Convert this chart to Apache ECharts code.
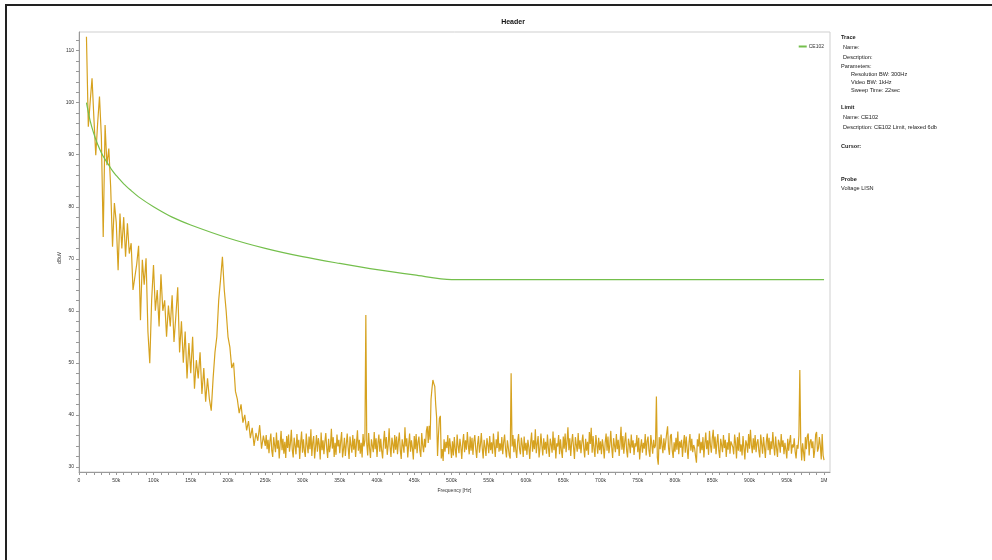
<!DOCTYPE html>
<html>
<head>
<meta charset="utf-8">
<script src="https://cdn.jsdelivr.net/npm/echarts@6/dist/echarts.min.js"></script>
<style>
html,body{margin:0;padding:0;background:#fff;}
#chart{width:992px;height:560px;}
</style>
</head>
<body>
<div id="chart"></div>
<script>
// ---- data ----
// low-frequency part of the trace (10 kHz .. 250 kHz, 2.5 kHz steps)
const earlyStartHz = 10000;
const earlyStepHz = 2500;
const earlyLevels = [
  112.7, 95.4, 100.2, 104.7, 97, 89.9, 96, 101.2, 93.5, 74.2,
  95.7, 88, 91.2, 83.8, 72.3, 80.7, 77, 67.8, 78.7, 72,
  78, 70.4, 76.8, 71, 73, 64, 66.5, 69, 72.5, 58.2,
  69.8, 65, 70.1, 56, 49.9, 62, 68.8, 60, 64, 57,
  67, 60, 62, 55, 61, 57, 63, 54, 59, 64.5,
  52, 58, 50, 56, 47, 53.8, 48, 55, 45, 50.5,
  47, 52, 44, 49, 42.5, 47, 43, 40.8, 47, 52,
  55, 62, 66, 70.4, 64, 60, 55, 53, 49, 50,
  44.5, 43, 40.3, 42, 38.5, 40, 37, 38.8, 35.5, 37.5,
  34, 36.5, 35, 38, 33.5, 36, 34
];
// noise floor of the trace (251.25 kHz .. 1 MHz, 1.25 kHz steps)
const floorStartHz = 251250;
const floorStepHz = 1250;
const floorLevels = [
  36.1,33.4,35.2,32.6,34.9,36.4,33.1,31.9,35.7,34.2,32.8,36.6,33.5,35.1,31.6,34.4,36.9,33.2,35.4,32.5,
  34.8,31.7,35.9,33.6,36.2,32.9,34.5,37.1,33.3,31.8,35.6,34.1,32.4,36.3,33.7,35.2,31.5,34.6,36.8,32.7,
  35.3,33.1,31.9,36.4,34.2,32.6,35.8,33.4,37.2,32.1,34.7,35.9,31.6,33.8,36.1,32.9,35.5,34.3,31.4,36.6,
  33.2,35.1,32.4,34.8,36.5,33.6,31.7,35.4,32.8,34.1,37.3,33.5,35.7,31.9,34.6,32.3,36.2,33.9,35.2,32.6,
  34.9,36.7,31.8,33.4,35.6,32.1,34.3,36.4,33.7,31.5,35.8,34.2,32.7,36.1,33.3,35.4,31.9,34.7,37,33.1,
  35.2,32.5,34.6,31.8,36.3,33.9,35.1,33.0,34.4,32.2,36.5,33.6,31.7,35.3,34.1,32.8,36.7,33.4,35.5,31.9,
  34.6,36.2,32.9,35.4,33.1,31.6,34.8,36.9,33.5,35.7,32.3,34.2,37.4,33.8,31.9,35.6,34.4,32.6,36.1,33.3,
  35.8,32.4,34.9,36.6,33.2,31.5,35.3,34.1,32.7,37.6,33.9,35.5,31.8,34.3,36.4,32.9,35.1,33.6,31.4,35.9,
  33.4,36.3,32.6,34.7,35.8,33.1,31.9,36.5,34.2,32.8,35.4,33.7,36.9,32.3,34.6,37.9,35.2,33.5,36.8,34.4,
  35.1,33.2,36.4,34.7,32.1,36.2,39.3,34.5,31.6,33.4,31.1,35.3,32.9,34.8,33.6,36.1,32.4,35.5,33.8,31.7,
  34.9,32.2,35.7,33.4,31.8,36.2,34.1,32.6,35.4,33.9,31.5,34.6,36.3,32.8,35.1,33.3,36.7,34.2,32.4,35.8,
  33.1,35.6,32.3,34.9,36.1,33.5,31.7,34.4,35.9,32.7,34.2,36.5,33.6,31.6,35.2,33.8,32.1,35.5,34.3,32.6,
  35.9,33.2,34.7,32.5,36.4,34.1,31.9,35.3,33.6,36.8,32.9,34.5,33.1,35.7,32.4,34.8,36.2,33.4,31.8,35.1,
  33.7,32.2,31.6,34.6,33.9,36.1,32.8,35.4,33.3,31.7,34.9,36.3,33.5,32.4,35.6,34.2,31.9,35.8,33.1,34.6,
  32.3,35.2,33.8,31.5,34.7,36.6,32.9,35.1,33.4,37.2,32.6,34.4,35.9,31.8,33.6,36.4,34.1,32.2,35.5,33.3,
  34.8,32.5,36.2,33.7,31.9,35.4,34.3,32.7,36.8,33.2,35.6,31.6,34.5,33.9,36.1,32.4,35.3,33.1,31.7,35.8,
  33.5,36.4,32.8,34.9,37.6,33.2,35.5,32.1,34.6,36.3,33.8,31.5,35.7,34.2,32.9,36.5,33.4,35.1,32.6,34.7,
  36.2,33.6,31.8,35.4,33.1,34.8,32.3,36.7,34.4,37.5,32.7,35.9,33.5,31.9,36.1,34.3,32.5,35.6,33.2,34.9,
  32.4,35.3,33.9,31.6,34.7,36.4,33.1,35.8,32.6,34.2,36.9,33.7,31.7,35.5,34.1,32.8,36.3,33.4,35.2,32.1,
  34.6,37.7,33.3,35.9,32.5,34.8,36.6,33.2,31.8,35.4,34.3,32.6,36.2,33.7,35.1,32.3,34.5,33.9,36.1,32.8,
  35.6,31.4,33.8,35.3,32.7,34.6,33.5,36.3,32.2,34.9,35.8,33.1,31.9,36.1,34.4,32.5,35.2,33.6,34.1,33.0,
  31.8,30.4,35.7,33.4,36.2,34.1,32.6,35.5,33.2,34.8,36.4,37.8,33.6,32.3,35.9,36.3,33.1,31.7,34.7,32.9,
  35.6,33.3,36.8,32.4,34.9,33.7,35.2,31.9,34.4,36.1,32.7,35.8,33.5,31.5,34.6,36.3,33.1,35.4,32.8,34.2,
  33.6,32.1,30.8,35.3,33.9,36.4,32.6,34.8,33.2,35.7,31.8,34.5,36.6,33.4,35.1,32.3,36.9,34.2,32.7,35.5,
  37.1,33.5,35.8,32.4,34.6,36.3,33.1,31.7,35.4,34.2,32.8,36.1,33.6,35.2,31.9,34.7,33.3,36.5,32.5,34.9,
  35.2,33.8,32.4,36.2,34.5,31.6,35.7,33.1,36.6,32.9,34.3,32.2,35.9,33.6,31.4,35.1,34.4,32.7,36.3,33.5,
  37.1,34.2,32.6,35.5,33.3,36.1,32.8,34.6,35.3,33.1,31.8,36.2,34.4,32.5,35.7,33.9,31.7,34.8,36.4,33.2,
  35.6,32.3,34.9,33.4,36.7,34.1,32.2,35.8,33.6,31.9,35.2,34.5,32.7,36.3,33.8,35.1,32.4,34.6,33.3,31.6,
  35.4,33.1,34.8,36.1,32.5,34.3,33.7,35.5,32.9,31.6,34.2,33.5,36.0,33.3,34.6,31.2,34.5,32.8,31.1,35.7,
  33.4,35.9,36.4,32.2,34.8,35.3,33.6,34.9,31.7,33.2,36.2,36.7,32.9,33.6,35.7,34.1,31.4,36.3,32.2,31.3
];
// narrow emissions standing above the noise floor [Hz, dBuV]
const spikeFreqs  = [385000, 467500, 472500, 473750, 475000, 476250, 477500, 478750, 480000, 485000, 580000, 775000, 967500];
const spikeLevels = [59.2,   37.8,   43,     45,     46.7,   46,     45.5,   42,     39.5,   39.8,   48,     43.5,   48.6];
// CE102 limit (relaxed 6 dB)
const limitFreqs = [10000, 15000, 20000, 25000, 30000, 35000, 40000, 45000, 50000, 60000, 70000, 80000, 100000, 125000, 150000, 200000, 250000, 300000, 350000, 400000, 450000, 500000, 1000000];
const limitLevels = [100, 96.5, 94, 92, 90.4, 89.1, 88, 86.9, 86, 84.4, 83.1, 81.9, 80, 78, 76.5, 74, 72, 70.4, 69.1, 67.9, 66.9, 66, 66];
const xTickValues = []; for (let v = 0; v <= 1000000; v += 10000) xTickValues.push(v);
const xLabelValues = []; for (let v = 0; v <= 1000000; v += 50000) xLabelValues.push(v);
const yTickValues = []; for (let v = 30; v <= 112; v += 2) yTickValues.push(v);
const yLabelValues = [30, 40, 50, 60, 70, 80, 90, 100, 110];
const infoLines = [
  ['Trace', 841, 37, true],
  ['Name:', 843, 47, false],
  ['Description:', 843, 57, false],
  ['Parameters:', 841, 66, false],
  ['Resolution BW: 300Hz', 851, 74, false],
  ['Video BW: 1kHz', 851, 82, false],
  ['Sweep Time: 22sec', 851, 90, false],
  ['Limit', 841, 107, true],
  ['Name: CE102', 843, 117, false],
  ['Description: CE102 Limit, relaxed 6db', 843, 127, false],
  ['Cursor:', 841, 146, true],
  ['Probe', 841, 179, true],
  ['Voltage LISN', 841, 188, false]
];

// ---- build ----
const floorData = floorLevels.map((v, i) => [floorStartHz + i * floorStepHz, v]);
spikeFreqs.forEach((f, k) => {
  const idx = Math.round((f - floorStartHz) / floorStepHz);
  if (floorData[idx]) floorData[idx][1] = spikeLevels[k];
});
const traceData = earlyLevels.map((v, i) => [earlyStartHz + i * earlyStepHz, v]).concat(floorData);
const limitData = limitFreqs.map((f, i) => [f, limitLevels[i]]);
const FONT = 'Liberation Sans, Arial, sans-serif';

const chart = echarts.init(document.getElementById('chart'), null, {renderer: 'canvas'});
chart.setOption({
  animation: false,
  backgroundColor: '#fff',
  title: {
    text: 'Header', left: 508, top: 14, textAlign: 'center',
    textStyle: {fontSize: 7, fontWeight: 'bold', color: '#111', fontFamily: FONT}
  },
  legend: {
    data: ['CE102'], right: 163, top: 39, itemWidth: 8, itemHeight: 2, itemGap: 2,
    icon: 'rect',
    textStyle: {fontSize: 5, color: '#333', fontFamily: FONT, padding: [0, 0, 0, -3]}
  },
  grid: {
    left: 79, top: 32, width: 751, height: 440,
    show: true, borderColor: '#cfcfcf', borderWidth: 1, backgroundColor: 'transparent'
  },
  xAxis: {
    type: 'value', min: 0, max: 1008000,
    name: 'Frequency [Hz]', nameLocation: 'middle', nameGap: 15,
    nameTextStyle: {fontSize: 5, color: '#333', fontFamily: FONT},
    axisLine: {show: true, lineStyle: {color: '#999', width: 1}},
    axisTick: {show: true, length: 3, customValues: xTickValues, lineStyle: {color: '#999'}},
    axisLabel: {
      customValues: xLabelValues, fontSize: 5, color: '#333', fontFamily: FONT, margin: 6,
      formatter: v => v === 0 ? '0' : (v >= 1000000 ? '1M' : (v / 1000) + 'k')
    },
    splitLine: {show: false}
  },
  yAxis: {
    type: 'value', min: 29, max: 113.6,
    axisLine: {show: true, lineStyle: {color: '#999', width: 1}},
    axisTick: {show: true, length: 3, customValues: yTickValues, lineStyle: {color: '#999'}},
    axisLabel: {customValues: yLabelValues, fontSize: 5, color: '#333', fontFamily: FONT, margin: 5},
    splitLine: {show: false}
  },
  series: [
    {
      name: 'Trace', type: 'line', data: traceData, showSymbol: false,
      lineStyle: {color: '#D6A21F', width: 1.2}, itemStyle: {color: '#D6A21F'}, z: 2
    },
    {
      name: 'CE102', type: 'line', data: limitData, showSymbol: false, smooth: 0.3,
      lineStyle: {color: '#74BF4C', width: 1.2}, itemStyle: {color: '#74BF4C'}, z: 3
    }
  ],
  graphic: [
    {type: 'rect', shape: {x: 6, y: 5, width: 1200, height: 800},
     style: {fill: 'none', stroke: '#222', lineWidth: 2}, silent: true},
    {type: 'text', x: 60, y: 258, rotation: Math.PI / 2,
     style: {text: 'dBuV', fontSize: 5, fill: '#333', fontFamily: FONT, align: 'center', verticalAlign: 'middle'}}
  ].concat(infoLines.map(l => ({
    type: 'text', left: l[1], top: l[2] - 3,
    style: {text: l[0], fontSize: 5.6, fontWeight: l[3] ? 'bold' : 'normal', fill: '#222', fontFamily: FONT}
  })))
});
</script>
</body>
</html>
